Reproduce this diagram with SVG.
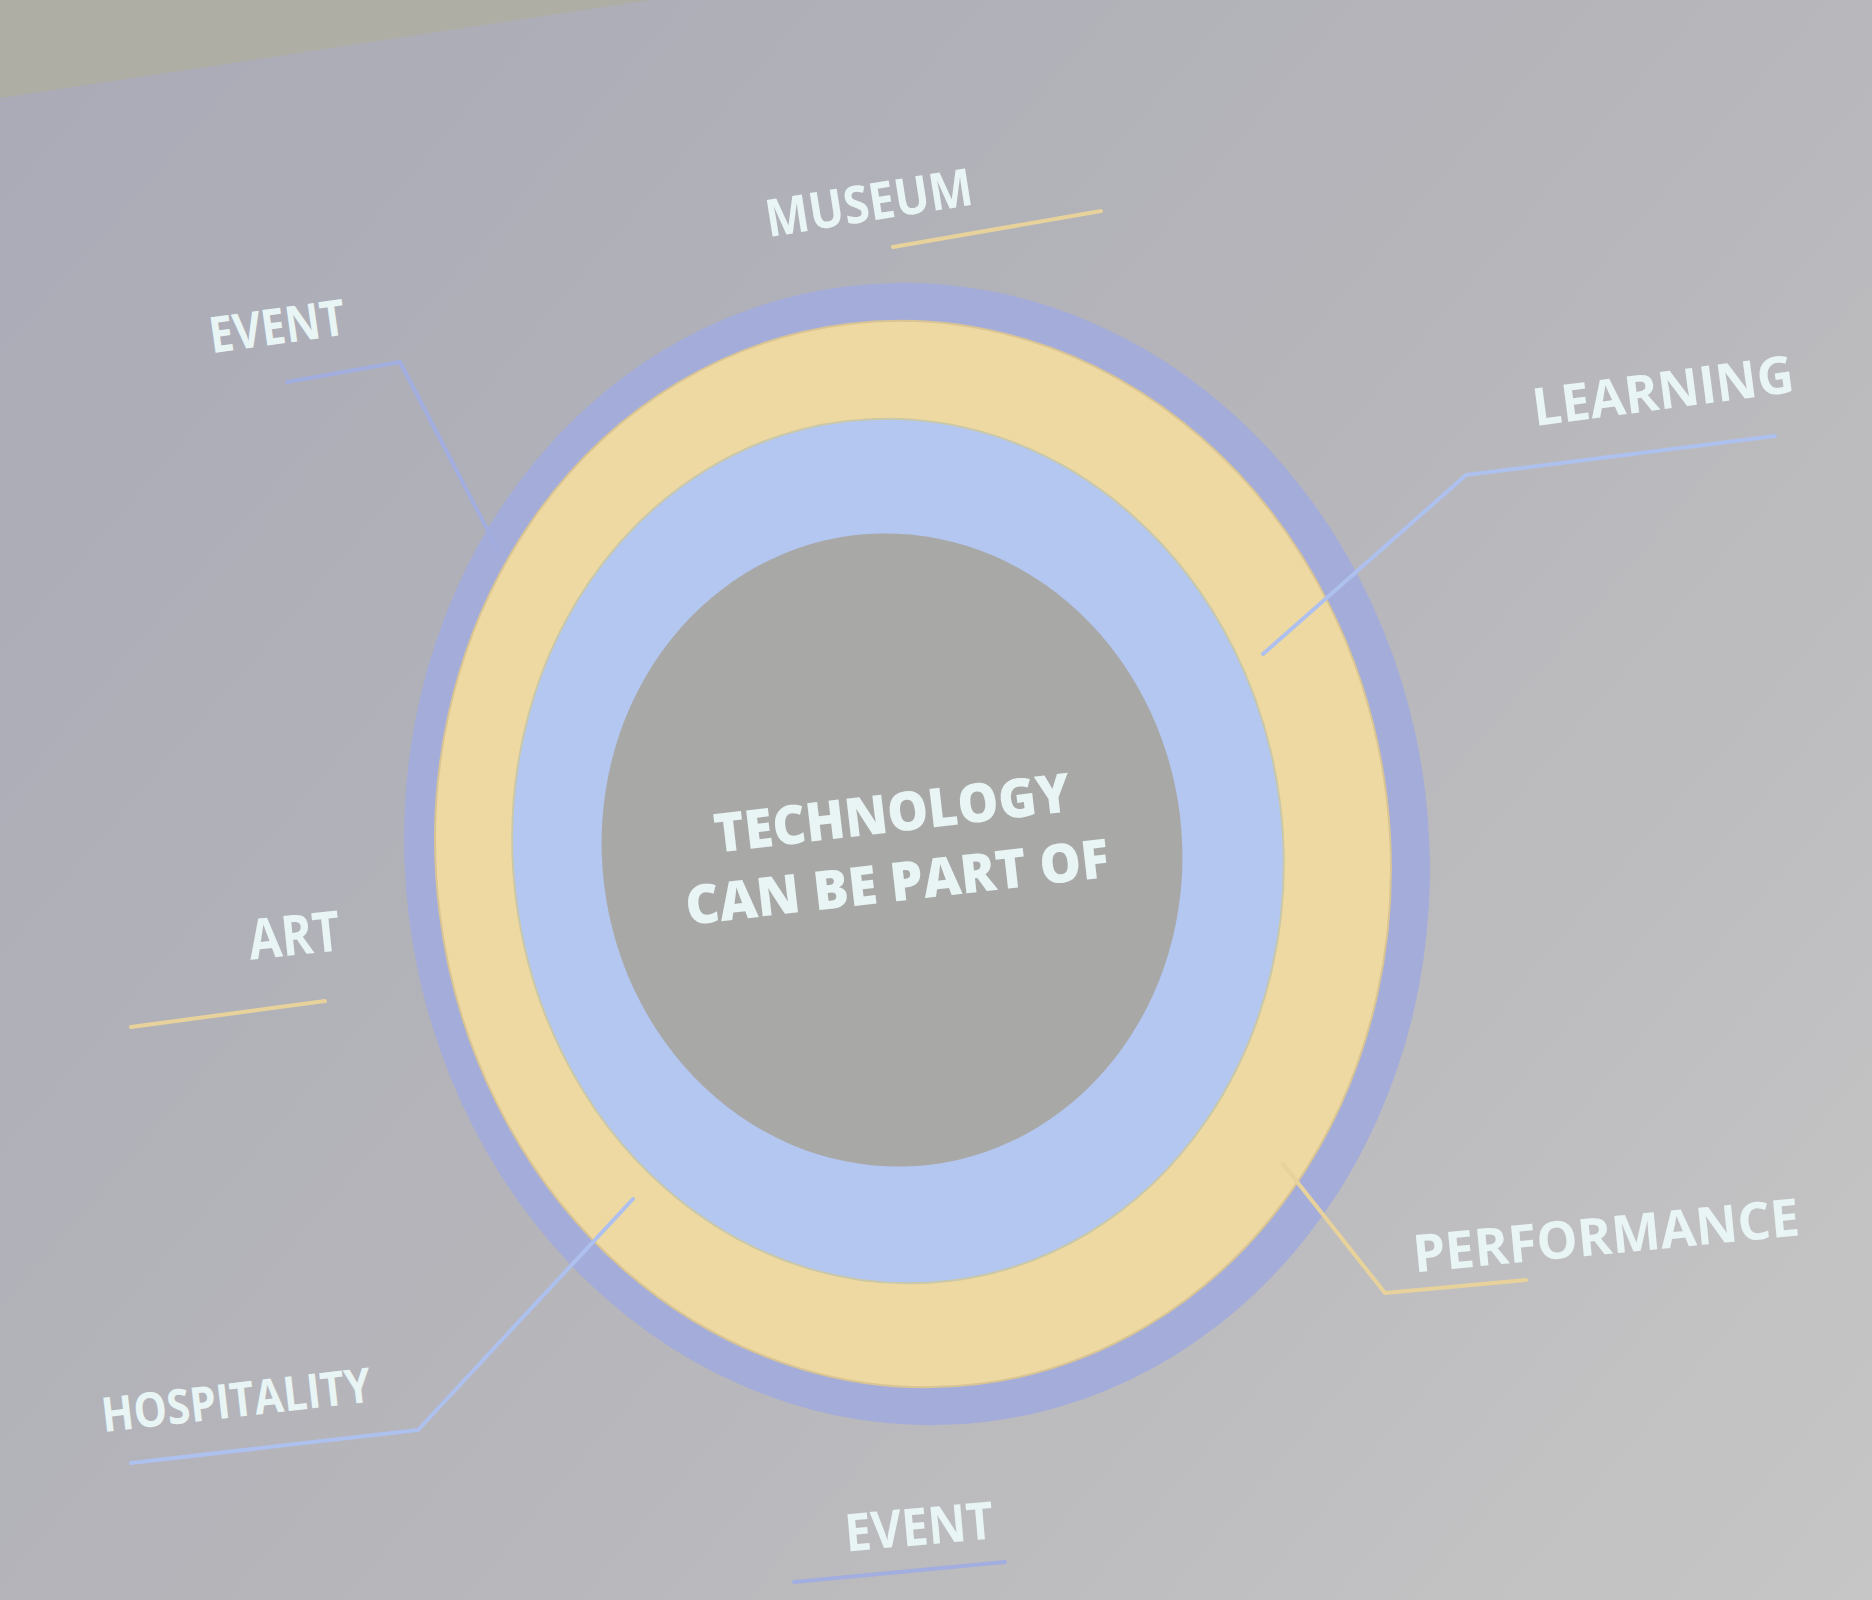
<svg xmlns="http://www.w3.org/2000/svg" width="1872" height="1600" viewBox="0 0 1872 1600">
  <defs>
    <linearGradient id="bg" x1="0" y1="0" x2="1872" y2="1600" gradientUnits="userSpaceOnUse">
      <stop offset="0" stop-color="#a9aab6"/>
      <stop offset="0.5" stop-color="#b5b5ba"/>
      <stop offset="1" stop-color="#c6c6c6"/>
    </linearGradient>
    <style>
      .lbl { font-family: "Open Sans", "Liberation Sans", sans-serif; font-weight: 700; fill: #e8f5f4; text-anchor: middle; }
      .ctr { font-family: "Open Sans", "Liberation Sans", sans-serif; font-weight: 800; fill: #e8f5f4; text-anchor: middle; }
      .cb { fill: none; stroke: #a2aee0; stroke-width: 4; stroke-linecap: round; stroke-linejoin: round; }
      .cl { fill: none; stroke: #adc0ee; stroke-width: 4; stroke-linecap: round; stroke-linejoin: round; }
      .cy { fill: none; stroke: #e8d29c; stroke-width: 4; stroke-linecap: round; stroke-linejoin: round; }
    </style>
  </defs>

  <rect x="0" y="0" width="1872" height="1600" fill="url(#bg)"/>
  <polygon points="0,0 650,0 0,98" fill="#afaea5"/>

  <g id="wheel">
    <ellipse cx="917" cy="854" rx="512" ry="572" fill="#a4acd9" transform="rotate(-7 917 854)"/>
    <ellipse cx="913" cy="854" rx="477" ry="534" fill="#efd9a3" stroke="#d9c594" stroke-width="2" transform="rotate(-7 913 854)"/>
    <ellipse cx="898" cy="851" rx="385" ry="433" fill="#b4c7f0" stroke="#c9c8a8" stroke-width="2" transform="rotate(-7 898 851)"/>
    <ellipse cx="892" cy="850" rx="290" ry="317" fill="#a8a8a7" transform="rotate(-7 892 850)"/>
  </g>

  <g id="connectors">
    <polyline class="cb" points="287,382 400,362 497,548"/>
    <polyline class="cl" points="1775,436 1466,475 1263,654"/>
    <polyline class="cy" points="131,1027 325,1001"/>
    <polyline class="cl" points="131,1463 418,1430 633,1199"/>
    <polyline class="cy" points="1283,1164 1385,1293 1526,1280"/>
    <polyline class="cy" points="893,247 1101,211"/>
    <polyline class="cb" points="794,1582 1005,1562"/>
  </g>

  <g id="center">
    <text class="ctr" x="892" y="832" font-size="54" textLength="358" lengthAdjust="spacingAndGlyphs" transform="rotate(-6.7 892 812)">TECHNOLOGY</text>
    <text class="ctr" x="897" y="901" font-size="54" textLength="426" lengthAdjust="spacingAndGlyphs" transform="rotate(-6.5 897 881)">CAN BE PART OF</text>
  </g>

  <g id="museum">
    <text class="lbl" x="869" y="221" font-size="52" textLength="209" lengthAdjust="spacingAndGlyphs" transform="rotate(-9 869 203)">MUSEUM</text>
  </g>
  <g id="event-top">
    <text class="lbl" x="277" y="344" font-size="50" textLength="137" lengthAdjust="spacingAndGlyphs" transform="rotate(-8 277 326)">EVENT</text>
  </g>
  <g id="learning">
    <text class="lbl" x="1663" y="409" font-size="52" textLength="263" lengthAdjust="spacingAndGlyphs" transform="rotate(-7.5 1663 390)">LEARNING</text>
  </g>
  <g id="art">
    <text class="lbl" x="294" y="955" font-size="56" textLength="92" lengthAdjust="spacingAndGlyphs" transform="rotate(-6 294 934)">ART</text>
  </g>
  <g id="hospitality">
    <text class="lbl" x="236" y="1417" font-size="48" textLength="271" lengthAdjust="spacingAndGlyphs" transform="rotate(-6.5 236 1399)">HOSPITALITY</text>
  </g>
  <g id="performance">
    <text class="lbl" x="1606" y="1254" font-size="52" textLength="388" lengthAdjust="spacingAndGlyphs" transform="rotate(-5.5 1606 1235)">PERFORMANCE</text>
  </g>
  <g id="event-bottom">
    <text class="lbl" x="919" y="1545" font-size="52" textLength="149" lengthAdjust="spacingAndGlyphs" transform="rotate(-5 919 1526)">EVENT</text>
  </g>
</svg>
